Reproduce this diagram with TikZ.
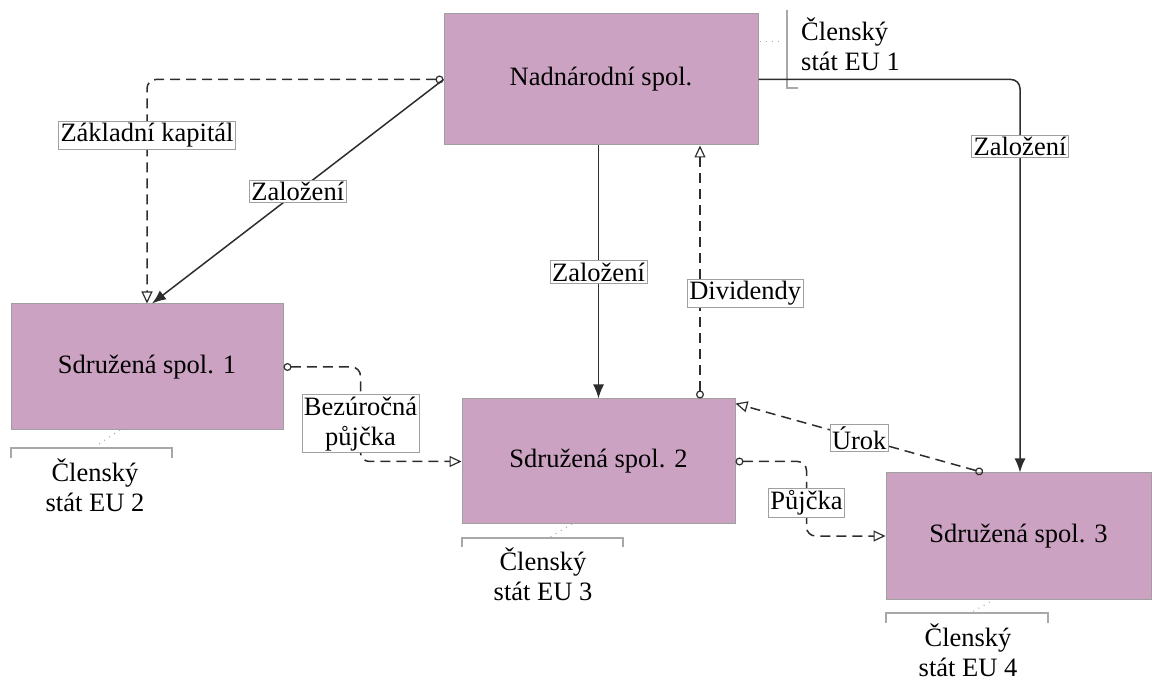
\documentclass[tikz,border=0pt]{standalone}
\usepackage{fontspec}
\setmainfont{Liberation Serif}
\newfontfamily\diagfont{Liberation Serif}
\usetikzlibrary{arrows.meta,calc}
\definecolor{boxfill}{RGB}{204,162,194}
\definecolor{boxline}{RGB}{160,160,160}
\definecolor{wirecol}{RGB}{45,45,45}
\definecolor{brkcol}{RGB}{168,168,168}
\begin{document}
\begin{tikzpicture}[x=1pt,y=-1pt,
  font=\diagfont\fontsize{26.5}{30}\selectfont,
  company/.style={draw=boxline,line width=1pt,fill=boxfill,minimum width=#1,minimum height=126pt,inner sep=0pt},
  lbl/.style={fill=white,draw=boxline,solid,sharp corners,line width=0.7pt,inner sep=2pt,align=center},
  note/.style={inner sep=0pt,align=center},
  wire/.style={draw=wirecol,line width=1.5pt},
  flow/.style={wire,dash pattern=on 10pt off 6pt},
  brk/.style={draw=brkcol,line width=2pt},
  tie/.style={draw=brkcol,line width=1pt,dash pattern=on 1pt off 5pt},
  startdot/.tip={Circle[open,length=8pt,line width=1.2pt]},
  solidhead/.tip={Latex[length=14pt,width=11pt]},
  openhead/.tip={Triangle[open,length=12pt,width=11pt,line width=1.2pt]}
]
\useasboundingbox (0,0) rectangle (1152,684);

% companies
\node[company=314pt,minimum height=131pt] (nad) at (601,79.5) {Nadnárodní spol.};
\node[company=272pt] (s1) at (147,367) {Sdružená spol. 1};
\node[company=273pt,minimum height=125pt] (s2) at (598.5,461.5) {Sdružená spol. 2};
\node[company=265pt] (s3) at (1018.5,536) {Sdružená spol. 3};

% member state notes
\draw[brk] (787,10) -- (787,88) -- (798,88);
\draw[tie] (760,42) -- (784,42);
\node[note,align=left,anchor=west] (m1) at (801,44) {Členský\\stát EU 1};

\draw[brk] (11,458) -- (11,448) -- (172,448) -- (172,458);
\draw[tie] (120,430) -- (96,446);
\node[note] (m2) at (95,485) {Členský\\stát EU 2};

\draw[brk] (462,547) -- (462,538) -- (623,538) -- (623,547);
\draw[tie] (572,524) -- (550,537);
\node[note] (m3) at (543,574) {Členský\\stát EU 3};

\draw[brk] (886,623) -- (886,613) -- (1048,613) -- (1048,623);
\draw[tie] (995,599) -- (972,612);
\node[note] (m4) at (968,650) {Členský\\stát EU 4};

% founding links
\draw[wire,-solidhead] (nad.west) -- ([xshift=5pt]s1.north)
  node[lbl,pos=0.5] {Založení};
\draw[wire,-solidhead] (s2.north |- nad.south) -- (s2.north)
  node[lbl,pos=0.5] {Založení};
\draw[wire,-solidhead,rounded corners=9pt] (nad.east) -- (nad.east -| {$(s3.north)+(1.5,0)$})
  coordinate (z3) -- ([xshift=1.5pt]s3.north) node[lbl,pos=0.17] {Založení};

% money flows
\draw[flow,startdot-openhead,rounded corners=9pt] (nad.west) -- (nad.west -| s1.north)
  -- (s1.north) node[lbl,pos=0.25] {Základní kapitál};
\draw[flow,startdot-openhead] ([xshift=101.5pt]s2.north) -- ([xshift=101.5pt]s2.north |- nad.south)
  node[lbl,pos=0.417,anchor=west,xshift=-13pt] {Dividendy};
\draw[flow,startdot-openhead,rounded corners=9pt] (s1.east) -- ++(77,0) coordinate (b1)
  -- (b1 |- s2.west) node[lbl,pos=0.6] {Bezúročná\\půjčka} -- (s2.west);
\draw[flow,startdot-openhead,rounded corners=9pt] (s2.east) -- ++(71,0) coordinate (p1)
  -- (p1 |- s3.west) node[lbl,pos=0.56] {Půjčka} -- (s3.west);
\draw[flow,startdot-openhead] ([xshift=-35.5pt]s3.north) -- ([yshift=-5pt]s2.north east)
  node[lbl,pos=0.5] {Úrok};
\end{tikzpicture}
\end{document}
